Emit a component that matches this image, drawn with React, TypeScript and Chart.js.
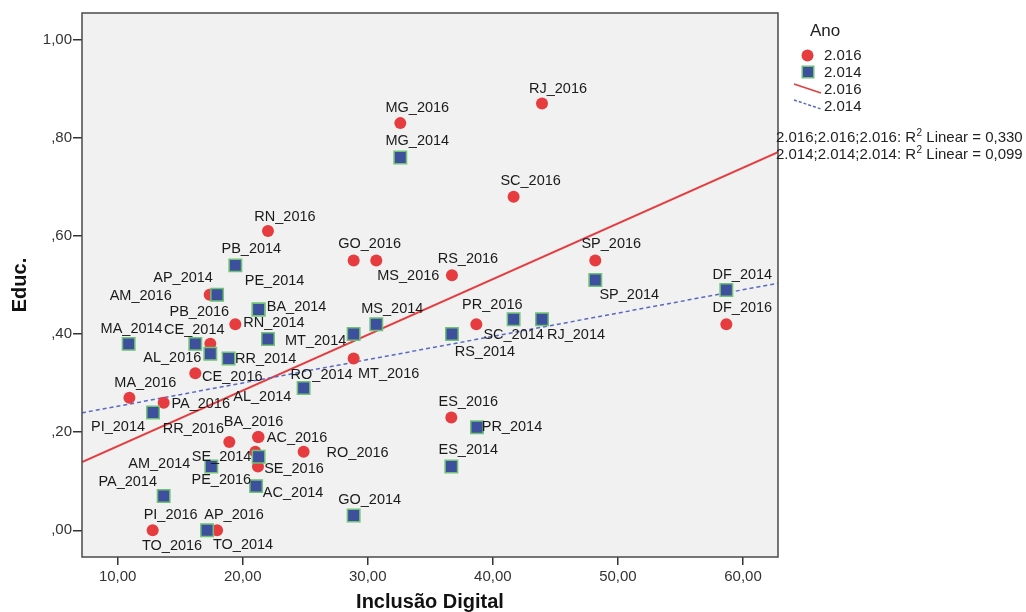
import React, { useEffect, useRef } from 'react';
import { Chart, registerables } from 'chart.js';

Chart.register(...registerables);

// ---- data ----
const labels2016 = ['MG_2016','RJ_2016','SC_2016','RN_2016','GO_2016','MS_2016','RS_2016','SP_2016','DF_2016','PR_2016','ES_2016','MT_2016','AM_2016','PB_2016','AL_2016','CE_2016','MA_2016','PA_2016','RR_2016','BA_2016','AC_2016','PE_2016','SE_2016','RO_2016','PI_2016','AP_2016','TO_2016'];
const incl2016 = [32.60,43.93,41.66,22.02,28.87,30.68,36.73,48.19,58.67,38.68,36.68,28.87,17.36,19.41,17.41,16.21,10.94,13.68,18.93,21.27,21.22,21.01,21.22,24.87,12.80,17.95,17.15];
const educ2016 = [0.83,0.87,0.68,0.61,0.55,0.55,0.52,0.55,0.42,0.42,0.23,0.35,0.48,0.42,0.38,0.32,0.27,0.26,0.18,0.19,0.19,0.16,0.13,0.16,0.00,0.00,0.00];

const labels2014 = ['MG_2014','PB_2014','AP_2014','PE_2014','BA_2014','RN_2014','MA_2014','CE_2014','AL_2014','RR_2014','MT_2014','MS_2014','RO_2014','PI_2014','SE_2014','AM_2014','AC_2014','PA_2014','GO_2014','TO_2014','SP_2014','DF_2014','SC_2014','RJ_2014','RS_2014','PR_2014','ES_2014'];
const incl2014 = [32.60,19.41,17.95,21.27,21.27,22.02,10.88,16.21,17.41,18.87,28.87,30.68,24.87,12.83,21.27,17.49,21.07,13.68,28.87,17.15,48.19,58.67,41.66,43.93,36.73,38.73,36.68];
const educ2014 = [0.76,0.54,0.48,0.45,0.45,0.39,0.38,0.38,0.36,0.35,0.40,0.42,0.29,0.24,0.15,0.13,0.09,0.07,0.03,0.00,0.51,0.49,0.43,0.43,0.40,0.21,0.13];

const xTicks = [10, 20, 30, 40, 50, 60];
const yTicks = [0, 0.2, 0.4, 0.6, 0.8, 1.0];
const legendTitle = 'Ano';
const legendNames = ['2.016', '2.014'];
const r2Values = ['0,330', '0,099'];
const r2Prefixes = ['2.016;2.016;2.016: R', '2.014;2.014;2.014: R'];
const xTitle = 'Inclusão Digital';
const yTitle = 'Educ.';

// ---- layout / style (label offsets in px relative to point) ----
const labelOffsets2016 = [[17,-15],[16,-15],[17,-16],[17,-14],[16,-16],[32,16],[16,-16],[16,-16],[16,-16],[16,-19],[17,-15],[35,15],[-69,1],[-36,-12],[-38,14],[37,4],[16,-15],[37,1],[-36,-13],[-5,-15],[39,1],[-34,28],[36,3],[54,1],[18,-15],[17,-15],[-35,16]];
const labelOffsets2014 = [[17,-16],[16,-16],[-34,-17],[16,-29],[38,-3],[6,-16],[3,-15],[-1,-14],[52,43],[37,0],[-38,7],[16,-15],[18,-13],[-35,14],[-37,0],[-52,-2],[37,7],[-36,-14],[16,-16],[36,15],[34,15],[16,-15],[0,16],[34,16],[33,18],[35,0],[17,-16]];

const X_MIN = 7.15, X_MAX = 62.8, Y_MIN = -0.0545, Y_MAX = 1.0545;
const FONT = '"Liberation Sans", Arial, sans-serif';
const RED = '#e63c3f';
const BLUE = '#3e4f9e';
const GREEN = '#70c276';
const BLUE_LINE = '#5a69c0';

function fit(xs: number[], ys: number[]) {
  const n = xs.length;
  const mx = xs.reduce((a, b) => a + b, 0) / n;
  const my = ys.reduce((a, b) => a + b, 0) / n;
  let sxy = 0, sxx = 0;
  for (let i = 0; i < n; i++) { sxy += (xs[i] - mx) * (ys[i] - my); sxx += (xs[i] - mx) ** 2; }
  const b = sxy / sxx;
  const a = my - b * mx;
  return (x: number) => a + b * x;
}

const fmtX = (v: number) => v.toFixed(2).replace('.', ',');
const fmtY = (v: number) => { const s = v.toFixed(2).replace('.', ','); return s.startsWith('0') ? s.slice(1) : s; };

export default function App() {
  const ref = useRef<HTMLCanvasElement | null>(null);
  useEffect(() => {
    if (!ref.current) return;
    const f16 = fit(incl2016, educ2016);
    const f14 = fit(incl2014, educ2014);

    const overlay = {
      id: 'overlay',
      beforeDraw(chart: any) {
        const { ctx, chartArea: ca } = chart;
        ctx.save();
        ctx.fillStyle = '#ffffff';
        ctx.fillRect(0, 0, chart.width, chart.height);
        ctx.fillStyle = '#f0f1f0';
        ctx.fillRect(ca.left, ca.top, ca.right - ca.left, ca.bottom - ca.top);
        ctx.restore();
      },
      afterDatasetsDraw(chart: any) {
        const { ctx } = chart;
        const xs = chart.scales.x, ys = chart.scales.y;
        ctx.save();
        ctx.font = `14.5px ${FONT}`;
        ctx.fillStyle = '#1a1a1a';
        ctx.textAlign = 'center';
        ctx.textBaseline = 'middle';
        const drawLabels = (labels: string[], xv: number[], yv: number[], off: number[][]) => {
          labels.forEach((t, i) => {
            const px = xs.getPixelForValue(xv[i]);
            const py = ys.getPixelForValue(yv[i]);
            ctx.fillText(t, px + off[i][0], py + off[i][1]);
          });
        };
        drawLabels(labels2016, incl2016, educ2016, labelOffsets2016);
        drawLabels(labels2014, incl2014, educ2014, labelOffsets2014);
        ctx.restore();
      },
      afterDraw(chart: any) {
        const { ctx, chartArea: ca } = chart;
        ctx.save();
        ctx.strokeStyle = '#4a4a4a';
        ctx.lineWidth = 1.5;
        ctx.strokeRect(ca.left, ca.top, ca.right - ca.left, ca.bottom - ca.top);

        // axis titles
        ctx.fillStyle = '#111';
        ctx.font = `bold 20px ${FONT}`;
        ctx.textAlign = 'center';
        ctx.textBaseline = 'middle';
        ctx.fillText(xTitle, (ca.left + ca.right) / 2, 602);
        ctx.save();
        ctx.translate(20, (ca.top + ca.bottom) / 2);
        ctx.rotate(-Math.PI / 2);
        ctx.fillText(yTitle, 0, 0);
        ctx.restore();

        // legend
        ctx.textAlign = 'left';
        ctx.fillStyle = '#222';
        ctx.font = `17px ${FONT}`;
        ctx.fillText(legendTitle, 810, 31);
        ctx.font = `15px ${FONT}`;
        ctx.beginPath();
        ctx.arc(807.5, 55.5, 6, 0, Math.PI * 2);
        ctx.fillStyle = RED;
        ctx.fill();
        ctx.fillStyle = GREEN;
        ctx.fillRect(801.5, 65.5, 13, 13);
        ctx.fillStyle = BLUE;
        ctx.fillRect(803, 67, 10, 10);
        ctx.strokeStyle = RED;
        ctx.lineWidth = 1.5;
        ctx.beginPath(); ctx.moveTo(794, 84); ctx.lineTo(821, 93); ctx.stroke();
        ctx.strokeStyle = BLUE_LINE;
        ctx.setLineDash([3, 2]);
        ctx.beginPath(); ctx.moveTo(794, 100); ctx.lineTo(821, 109); ctx.stroke();
        ctx.setLineDash([]);
        ctx.fillStyle = '#222';
        ctx.fillText(legendNames[0], 824, 56);
        ctx.fillText(legendNames[1], 824, 73);
        ctx.fillText(legendNames[0], 824, 90);
        ctx.fillText(legendNames[1], 824, 107);

        // R2 annotations
        const r2Y = [138, 155];
        r2Prefixes.forEach((p, i) => {
          let x = 776;
          ctx.font = `15px ${FONT}`;
          ctx.fillText(p, x, r2Y[i]);
          x += ctx.measureText(p).width;
          ctx.font = `10px ${FONT}`;
          ctx.fillText('2', x + 0.5, r2Y[i] - 5);
          x += ctx.measureText('2').width + 0.5;
          ctx.font = `15px ${FONT}`;
          ctx.fillText(' Linear = ' + r2Values[i], x, r2Y[i]);
        });
        ctx.restore();
      },
    };

    const chart = new Chart(ref.current, {
      type: 'scatter',
      data: {
        datasets: [
          {
            label: legendNames[1],
            data: incl2014.map((x, i) => ({ x, y: educ2014[i] })),
            pointStyle: 'rect',
            pointRadius: 8.8,
            pointBackgroundColor: BLUE,
            pointBorderColor: GREEN,
            pointBorderWidth: 1.5,
          },
          {
            label: legendNames[0],
            data: incl2016.map((x, i) => ({ x, y: educ2016[i] })),
            pointStyle: 'circle',
            pointRadius: 6,
            pointBackgroundColor: RED,
            pointBorderColor: RED,
            pointBorderWidth: 0,
          },
          {
            label: 'fit2014',
            data: [{ x: X_MIN, y: f14(X_MIN) }, { x: X_MAX, y: f14(X_MAX) }],
            showLine: true,
            borderColor: BLUE_LINE,
            borderWidth: 1.5,
            borderDash: [4, 3],
            pointRadius: 0,
          },
          {
            label: 'fit2016',
            data: [{ x: X_MIN, y: f16(X_MIN) }, { x: X_MAX, y: f16(X_MAX) }],
            showLine: true,
            borderColor: RED,
            borderWidth: 2,
            pointRadius: 0,
          },
        ],
      },
      options: {
        animation: false,
        responsive: false,
        maintainAspectRatio: false,
        layout: { padding: { top: 13, right: 248, bottom: 0, left: 0 } },
        plugins: { legend: { display: false }, tooltip: { enabled: false } },
        scales: {
          x: {
            type: 'linear',
            min: X_MIN,
            max: X_MAX,
            afterBuildTicks: (s: any) => { s.ticks = xTicks.map((v) => ({ value: v })); },
            afterFit: (s: any) => { s.height = 55; },
            ticks: { callback: (v: any) => fmtX(Number(v)), font: { family: FONT, size: 15 }, color: '#333', padding: 3, maxRotation: 0, autoSkip: false },
            grid: { drawOnChartArea: false, drawTicks: true, tickLength: 8, color: '#333', lineWidth: 1.5 },
            border: { display: false },
          },
          y: {
            type: 'linear',
            min: Y_MIN,
            max: Y_MAX,
            afterBuildTicks: (s: any) => { s.ticks = yTicks.map((v) => ({ value: v })); },
            afterFit: (s: any) => { s.width = 82; },
            ticks: { callback: (v: any) => fmtY(Number(v)), font: { family: FONT, size: 15 }, color: '#333', padding: 1, autoSkip: false },
            grid: { drawOnChartArea: false, drawTicks: true, tickLength: 9, color: '#333', lineWidth: 1.5 },
            border: { display: false },
          },
        },
      },
      plugins: [overlay],
    } as any);
    return () => chart.destroy();
  }, []);

  return (
    <div style={{ position: 'fixed', left: 0, top: 0, width: 1026, height: 612, background: '#fff' }}>
      <canvas ref={ref} width={1026} height={612} style={{ width: 1026, height: 612, display: 'block' }} />
    </div>
  );
}
